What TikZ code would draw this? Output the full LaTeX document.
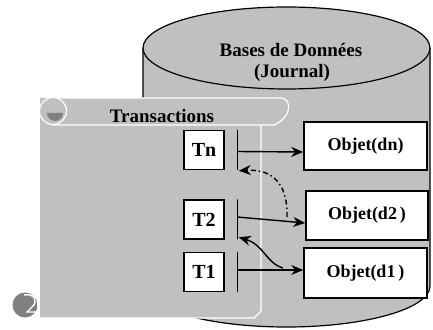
\documentclass[tikz,border=0pt]{standalone}
\usepackage{fontspec}
\setmainfont{Liberation Serif}
\usetikzlibrary{arrows.meta,positioning}
\definecolor{dbgray}{RGB}{192,192,192}
\definecolor{curlgray}{RGB}{128,128,128}

\begin{document}
\begin{tikzpicture}[x=1pt,y=1pt,
  tbox/.style={draw=black, fill=white, line width=1.6pt, minimum width=40pt, minimum height=39pt, inner sep=0pt, font=\fontsize{20}{22}\selectfont\bfseries},
  obox/.style={draw=black, fill=white, line width=1.6pt, minimum width=123pt, minimum height=48pt, inner sep=0pt, font=\fontsize{18}{20}\selectfont\bfseries},
  tbar/.style={draw=black, line width=1.5pt, minimum width=0pt, minimum height=40pt, inner sep=0pt},
  link/.style={black, line width=1.4pt, -{Stealth[length=12pt,width=10pt]}},
  title/.style={font=\fontsize{19}{21}\selectfont\bfseries, inner sep=0pt}]
\useasboundingbox (0,0) rectangle (433,329);

% database (journal)
\fill [dbgray] (143,281) -- (143,43) arc[start angle=180, end angle=360, x radius=143.5, y radius=41] -- (430,281) -- cycle;
\draw [black, line width=1.2pt] (143,281) -- (143,43) arc[start angle=180, end angle=360, x radius=143.5, y radius=41] -- (430,281);
\draw [black, line width=1.2pt, fill=dbgray] (286.5,281) ellipse [x radius=143.5, y radius=41];
\node [title] (db) at (291,279) {Bases de Données};
\node [title] (journal) at (292,256) {(Journal)};

% scroll
\fill [dbgray] (40,231) -- (282,231) .. controls (292,229) and (292,212) .. (274,204) -- (261,204) -- (261,18) -- (254,11) -- (40,11) -- cycle;
\draw [white, line width=1.2pt] (58,231) -- (282,231) .. controls (292,229) and (292,212) .. (274,204) -- (52,204);
\draw [white, line width=1.2pt] (261,204) -- (261,18) -- (254,11) -- (37,11);
\draw [white, line width=1.2pt, fill=dbgray] (53,218) circle (13.5);
\fill [curlgray] (47,216) arc[start angle=180, end angle=360, radius=8] -- cycle;
\fill [curlgray] (25,24) circle (12.5);
\draw [white, line width=1.4pt] (24,34) .. controls (34,36) and (38,28) .. (33,23) -- (27,17) -- (40,17);
\draw [white, line width=1.2pt] (38,36) -- (38,12);
\node [title] (trans) at (162,213) {Transactions};

% transactions
\node [tbox] (tn) at (204,179) {Tn};
\node [tbox] (t2) at (204,109.5) {T2};
\node [tbox] (t1) at (204,57) {T1};
\node [tbar, right=12.5pt of tn.east, anchor=center] (bn) {};
\node [tbar, right=12.5pt of t2.east, anchor=center] (b2) {};
\node [tbar, right=12.5pt of t1.east, anchor=center] (b1) {};

% objects
\node [obox] (on) at (365.5,183) {Objet(dn)};
\node [obox, minimum width=122pt, minimum height=49pt] (o2) at (367,113.5) {Objet(d2\,)};
\node [obox, minimum height=50pt] (o1) at (365.5,56) {Objet(d1\,)};

\draw [link] ([yshift=-1.5pt]bn.center) -- (on.west |- 0,177);
\draw [link] ([yshift=2.5pt]b2.center) -- ([yshift=-7.5pt]o2.west);
\draw [link] ([yshift=2pt]b1.center) -- (o1.west |- 0,59);

\coordinate (wstart) at (283,61);
\coordinate (dstart) at (287,112);
\draw [link] (wstart) .. controls (266,66) and (264,84) .. ([xshift=1.5pt,yshift=3pt]b2.south);
\draw [link, dash pattern=on 5pt off 3pt on 1.5pt off 3pt] (dstart) .. controls (288,150) and (268,160) .. ([xshift=1.5pt]bn.south);

\end{tikzpicture}
\end{document}
